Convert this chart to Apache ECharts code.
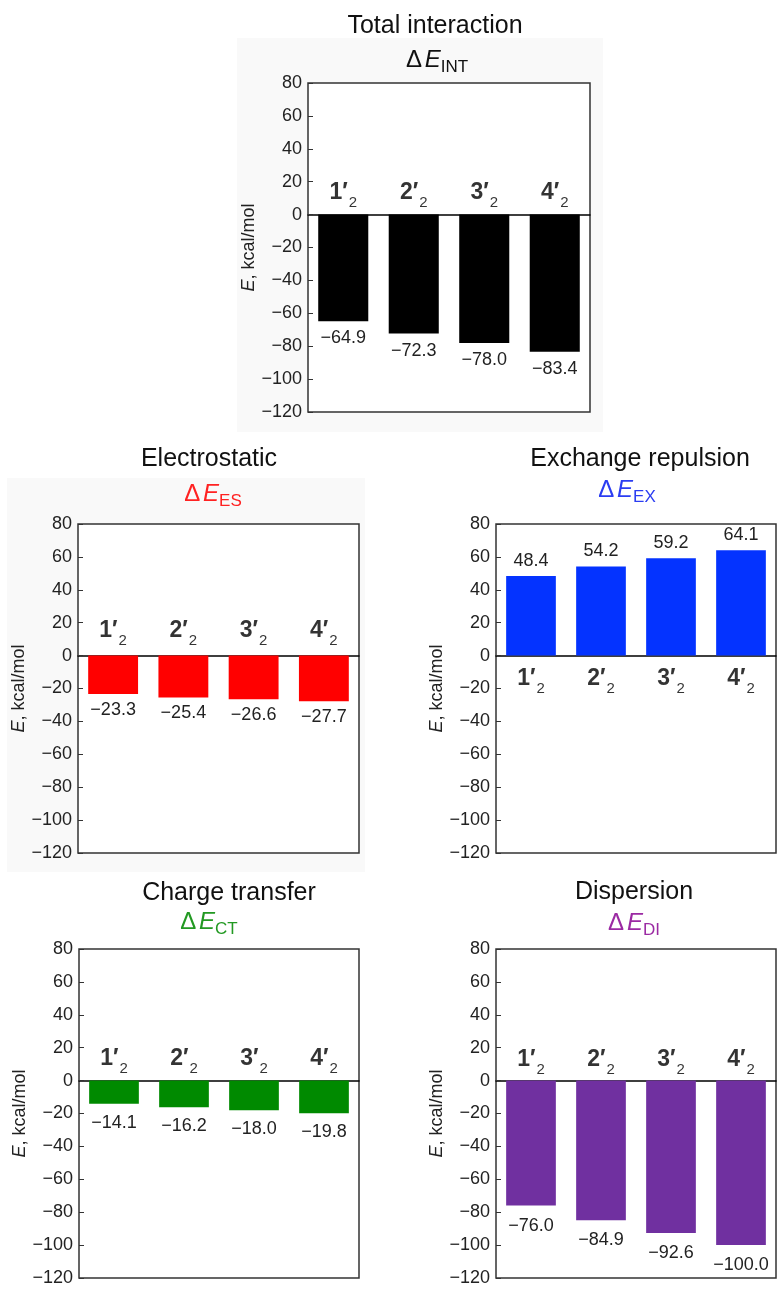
<!DOCTYPE html>
<html><head><meta charset="utf-8">
<script src="https://cdn.jsdelivr.net/npm/echarts@6/dist/echarts.min.js"></script>
<style>html,body{margin:0;padding:0;background:#fff}#c{width:779px;height:1291px}</style>
</head><body><div id="c"></div>
<script>
// ---- data ----
const categories = ['1\u2032', '2\u2032', '3\u2032', '4\u2032'];
const categorySub = '2';
const totalValues = [-64.9, -72.3, -78.0, -83.4];
const electrostaticValues = [-23.3, -25.4, -26.6, -27.7];
const exchangeValues = [48.4, 54.2, 59.2, 64.1];
const chargeTransferValues = [-14.1, -16.2, -18.0, -19.8];
const dispersionValues = [-76.0, -84.9, -92.6, -100.0];
const yMin = -120, yMax = 80, yStep = 20;
const panelTitles = ['Total interaction', 'Electrostatic', 'Exchange repulsion', 'Charge transfer', 'Dispersion'];
const panelSubs = ['INT', 'ES', 'EX', 'CT', 'DI'];
const axisNameText = '{i|E}, kcal/mol';

// ---- layout / style ----
const FONT = "'Liberation Sans', Arial, Helvetica, sans-serif";
const panels = [
  {values: totalValues, bar:'#000000', subColor:'#111111',
   grid:{left:308, top:83, width:282, height:329}, titleX:435, titleTop:14, subX:437, subTop:48, catDist:4, valDist:8},
  {values: electrostaticValues, bar:'#ff0000', subColor:'#ff2222',
   grid:{left:78, top:524, width:281, height:329}, titleX:209, titleTop:447, subX:213, subTop:482, catDist:7, valDist:7},
  {values: exchangeValues, bar:'#0433ff', subColor:'#2b3df2',
   grid:{left:496, top:524, width:280, height:329}, titleX:640, titleTop:447, subX:627, subTop:478, catDist:12, valDist:6},
  {values: chargeTransferValues, bar:'#008a00', subColor:'#229922',
   grid:{left:79, top:949, width:280, height:329}, titleX:229, titleTop:881, subX:209, subTop:910, catDist:4, valDist:10},
  {values: dispersionValues, bar:'#7030a0', subColor:'#9b2aa3',
   grid:{left:496, top:949, width:280, height:329}, titleX:634, titleTop:880, subX:634, subTop:911, catDist:3, valDist:11}
];

const fmtVal = v => (v < 0 ? '\u2212' : '') + Math.abs(v).toFixed(1);
const fmtTick = v => (v < 0 ? '\u2212' : '') + Math.abs(v);

const option = {
  animation: false,
  backgroundColor: '#ffffff',
  graphic: [
    {type:'rect', z:-1, silent:true, shape:{x:237, y:38, width:366, height:394}, style:{fill:'#f9f9f9'}},
    {type:'rect', z:-1, silent:true, shape:{x:7, y:478, width:358, height:394}, style:{fill:'#f9f9f9'}}
  ],
  title: [], grid: [], xAxis: [], yAxis: [], series: []
};

panels.forEach((p, i) => {
  const neg = p.values[0] < 0;
  option.title.push({
    text: panelTitles[i], left: p.titleX, top: p.titleTop, textAlign: 'center', textVerticalAlign: 'top', padding: 0,
    textStyle: {fontFamily: FONT, fontSize: 25, fontWeight: 'normal', color: '#111'}
  });
  option.title.push({
    text: '{d|\u0394}{sp| }{e|E}{s|' + panelSubs[i] + '}', left: p.subX, top: p.subTop, textAlign: 'center', textVerticalAlign: 'top', padding: 0,
    textStyle: {fontFamily: FONT, fontSize: 24, fontWeight: 'normal', color: p.subColor,
      rich: {
        d: {fontFamily: FONT, fontSize: 24, color: p.subColor, lineHeight: 26, verticalAlign: 'top'},
        sp: {fontFamily: FONT, fontSize: 10, color: p.subColor, lineHeight: 26, verticalAlign: 'top'},
        e: {fontFamily: FONT, fontSize: 24, fontStyle: 'italic', color: p.subColor, lineHeight: 26, verticalAlign: 'top'},
        s: {fontFamily: FONT, fontSize: 17, color: p.subColor, verticalAlign: 'top', padding: [11, 0, 0, 0]}
      }}
  });
  option.grid.push(Object.assign({show: true, borderColor: '#333', borderWidth: 1.5, backgroundColor: '#ffffff', containLabel: false}, p.grid));
  option.xAxis.push({
    type: 'category', gridIndex: i, data: categories, position: 'bottom',
    axisLine: {show: true, onZero: true, lineStyle: {color: '#000', width: 1.5}},
    axisTick: {show: false}, splitLine: {show: false},
    axisLabel: {show: false}
  });
  option.yAxis.push({
    type: 'value', gridIndex: i, min: yMin, max: yMax, interval: yStep,
    name: axisNameText, nameLocation: 'middle', nameGap: 46,
    nameTextStyle: {fontFamily: FONT, fontSize: 18, color: '#222',
      rich: {i: {fontFamily: FONT, fontSize: 18, fontStyle: 'italic', color: '#222'}}},
    axisLine: {show: false},
    axisTick: {show: true, inside: true, length: 5, lineStyle: {color: '#333', width: 1}},
    splitLine: {show: false},
    axisLabel: {fontFamily: FONT, fontSize: 18, color: '#222', margin: 6, formatter: fmtTick}
  });
  option.series.push({
    type: 'bar', xAxisIndex: i, yAxisIndex: i, data: p.values, barWidth: '71%',
    itemStyle: {color: p.bar},
    label: {show: true, position: neg ? 'bottom' : 'top', distance: p.valDist,
      fontFamily: FONT, fontSize: 18, color: '#222', formatter: d => fmtVal(d.value)}
  });
  // category labels sitting on the zero line
  option.series.push({
    type: 'scatter', xAxisIndex: i, yAxisIndex: i, silent: true,
    data: categories.map(c => [c, 0]),
    symbolSize: 0.1, itemStyle: {color: 'rgba(0,0,0,0)'},
    label: {
      show: true, position: neg ? 'top' : 'bottom', distance: p.catDist,
      formatter: d => '{b|' + d.data[0] + '}{s|' + categorySub + '}',
      rich: {
        b: {fontFamily: FONT, fontSize: 23, fontWeight: 'bold', color: '#000', lineHeight: 26, verticalAlign: 'top'},
        s: {fontFamily: FONT, fontSize: 15, color: '#000', verticalAlign: 'top', padding: [14, 0, 0, 1]}
      }
    }
  });
});

const chart = echarts.init(document.getElementById('c'), null, {renderer: 'canvas'});
chart.setOption(option);
</script>
</body></html>
